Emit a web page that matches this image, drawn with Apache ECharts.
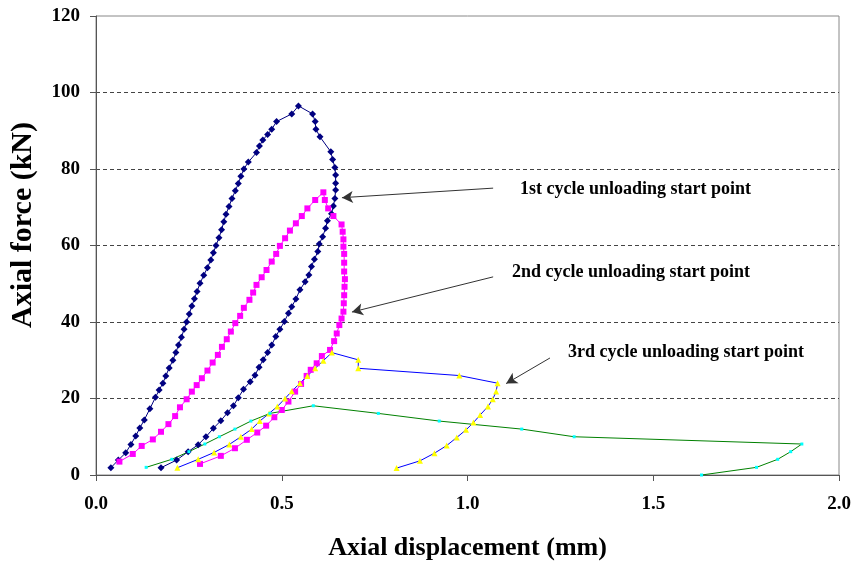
<!DOCTYPE html>
<html>
<head>
<meta charset="utf-8">
<script src="https://cdn.jsdelivr.net/npm/echarts@6/dist/echarts.min.js"></script>
<style>html,body{margin:0;padding:0;background:#fff}#c{width:857px;height:567px}</style>
</head>
<body>
<div id="c"></div>
<script>
// ---- data ----
const cycle1 = [[0.040,1.9],[0.060,3.9],[0.080,5.8],[0.094,8.0],[0.107,10.2],[0.118,12.3],[0.130,14.4],[0.145,17.3],[0.160,20.3],[0.170,22.2],[0.180,24.0],[0.188,25.9],[0.197,28.0],[0.207,30.0],[0.215,32.0],[0.222,34.0],[0.230,36.0],[0.237,38.1],[0.244,40.0],[0.251,42.1],[0.258,44.2],[0.265,46.1],[0.272,48.0],[0.280,50.1],[0.290,52.2],[0.300,54.2],[0.309,56.2],[0.316,58.1],[0.323,60.0],[0.331,62.0],[0.338,64.1],[0.344,66.2],[0.350,68.2],[0.358,70.2],[0.366,72.3],[0.375,74.3],[0.383,76.2],[0.390,78.1],[0.398,80.0],[0.410,81.8],[0.432,84.3],[0.440,86.0],[0.449,87.6],[0.462,89.0],[0.473,90.4],[0.486,92.4],[0.527,94.4],[0.545,96.5],[0.583,94.4],[0.590,92.4],[0.592,90.4],[0.603,88.4],[0.632,84.5],[0.637,82.5],[0.643,80.4],[0.645,78.4],[0.645,76.3],[0.645,74.5],[0.643,72.3],[0.639,70.3],[0.634,68.3],[0.623,66.5],[0.618,64.5],[0.610,62.3],[0.601,60.4],[0.597,58.4],[0.588,56.4],[0.580,54.5],[0.573,52.3],[0.563,50.5],[0.549,48.4],[0.538,46.0],[0.527,44.0],[0.518,42.3],[0.507,40.1],[0.495,38.1],[0.484,36.2],[0.473,34.0],[0.462,32.0],[0.450,30.1],[0.439,28.2],[0.428,26.1],[0.415,24.4],[0.397,22.4],[0.383,20.2],[0.370,18.1],[0.354,16.3],[0.336,14.2],[0.316,12.2],[0.296,10.0],[0.275,7.9],[0.248,6.1],[0.217,3.9],[0.175,1.9]];
const cycle2 = [[0.063,3.5],[0.099,5.5],[0.123,7.6],[0.153,9.3],[0.175,11.3],[0.195,13.3],[0.213,15.4],[0.226,17.7],[0.244,19.8],[0.258,21.8],[0.271,23.5],[0.285,25.3],[0.300,27.3],[0.314,29.4],[0.328,31.4],[0.339,33.5],[0.352,35.5],[0.363,37.5],[0.375,39.7],[0.388,41.6],[0.398,43.7],[0.413,45.8],[0.423,47.7],[0.432,49.7],[0.446,51.7],[0.459,53.6],[0.473,55.8],[0.485,57.8],[0.495,59.9],[0.509,61.9],[0.522,63.9],[0.538,65.8],[0.554,67.7],[0.569,69.7],[0.590,71.9],[0.612,73.9],[0.616,71.9],[0.625,69.7],[0.639,67.7],[0.661,65.5],[0.664,63.6],[0.666,61.6],[0.666,59.7],[0.668,57.8],[0.668,55.5],[0.668,53.2],[0.670,51.2],[0.669,49.2],[0.668,47.0],[0.667,44.9],[0.666,42.7],[0.661,40.9],[0.655,39.2],[0.648,37.0],[0.641,35.0],[0.630,32.7],[0.608,31.1],[0.594,29.2],[0.578,27.5],[0.567,25.9],[0.552,23.8],[0.536,21.8],[0.518,19.2],[0.500,17.0],[0.480,15.1],[0.458,12.9],[0.434,11.1],[0.406,9.2],[0.374,7.0],[0.336,5.0],[0.280,2.9]];
const cycle3 = [[0.219,1.9],[0.275,4.1],[0.318,5.9],[0.359,8.0],[0.390,10.0],[0.419,12.0],[0.441,14.1],[0.466,16.1],[0.488,17.9],[0.509,20.0],[0.527,21.9],[0.549,24.0],[0.569,25.9],[0.590,27.9],[0.612,29.9],[0.635,32.0],[0.706,30.1],[0.706,27.9],[0.978,26.0],[1.081,24.0],[1.077,21.8],[1.068,19.8],[1.055,17.9],[1.034,15.7],[1.016,13.7],[0.996,11.8],[0.971,9.8],[0.944,7.7],[0.911,5.7],[0.872,3.7],[0.809,1.8]];
const cycle4 = [[0.135,2.0],[0.204,4.1],[0.250,6.1],[0.293,8.1],[0.332,10.0],[0.374,12.0],[0.417,14.1],[0.468,16.1],[0.585,18.1],[0.760,16.1],[0.924,14.1],[1.146,12.0],[1.287,10.0],[1.900,8.1],[1.870,6.1],[1.835,4.1],[1.778,2.0],[1.630,0.0]];
const annotationTexts = ['1st cycle unloading start point','2nd cycle unloading start point','3rd cycle unloading start point'];
const arrowFrom = [[1.069,75.0],[1.069,51.8],[1.222,30.6]];
const arrowTo = [[0.662,72.5],[0.689,42.6],[1.104,23.9]];
const xTitle = 'Axial displacement (mm)';
const yTitle = 'Axial force (kN)';
// ---- chart ----
const FONT = '"Liberation Serif","Times New Roman",serif';
const chart = echarts.init(document.getElementById('c'), null, {renderer:'canvas'});
const annotPos = [[520,189],[512,272],[568,352]];
const option = {
  animation: false,
  backgroundColor: '#fff',
  grid: {left: 96, top: 16, right: 18, bottom: 92, show: true, borderColor: '#888', borderWidth: 1, backgroundColor: 'transparent'},
  xAxis: {
    type: 'value', min: 0, max: 2, interval: 0.5,
    name: xTitle, nameLocation: 'middle', nameGap: 60,
    nameTextStyle: {fontFamily: FONT, fontWeight: 'bold', fontSize: 26, color: '#000'},
    axisLine: {show: true, lineStyle: {color: '#555', width: 1}},
    axisTick: {show: true, inside: false, length: 6, lineStyle: {color: '#555'}},
    axisLabel: {fontFamily: FONT, fontWeight: 'bold', fontSize: 19, color: '#000', margin: 20, formatter: v => v.toFixed(1)},
    splitLine: {show: false}
  },
  yAxis: {
    type: 'value', min: 0, max: 120, interval: 20,
    axisLine: {show: true, lineStyle: {color: '#555', width: 1}},
    axisTick: {show: true, inside: false, length: 6, lineStyle: {color: '#555'}},
    axisLabel: {fontFamily: FONT, fontWeight: 'bold', fontSize: 19, color: '#000', margin: 16},
    splitLine: {show: true, showMinLine: false, showMaxLine: false, lineStyle: {color: '#444', type: [4,3], width: 1}}
  },
  series: [
    {type: 'line', data: cycle1, symbol: 'diamond', symbolSize: 7, showAllSymbol: true,
     lineStyle: {color: '#000080', width: 1}, itemStyle: {color: '#000080'}},
    {type: 'line', data: cycle2, symbol: 'rect', symbolSize: 6, showAllSymbol: true,
     lineStyle: {color: '#FF00FF', width: 1}, itemStyle: {color: '#FF00FF'}},
    {type: 'line', data: cycle3, symbol: 'triangle', symbolSize: 6, showAllSymbol: true,
     lineStyle: {color: '#0000FF', width: 1}, itemStyle: {color: '#FFFF00'}},
    {type: 'line', data: cycle4, symbol: 'rect', symbolSize: 3, showAllSymbol: true,
     lineStyle: {color: '#008000', width: 1}, itemStyle: {color: '#00FFFF'},
     markLine: {
       silent: true, symbol: ['none','arrow'], symbolSize: [9, 11], label: {show: false},
       lineStyle: {color: '#333', type: 'solid', width: 1},
       data: arrowFrom.map((f, i) => [{coord: f}, {coord: arrowTo[i]}])
     }}
  ],
  graphic: [
    {type: 'text', x: 23, y: 225, rotation: Math.PI/2,
     style: {text: yTitle, fontFamily: FONT, fontWeight: 'bold', fontSize: 30, fill: '#000', textAlign: 'center', textVerticalAlign: 'middle'}}
  ].concat(annotationTexts.map((t, i) => ({
    type: 'text', x: annotPos[i][0], y: annotPos[i][1],
    style: {text: t, fontFamily: FONT, fontWeight: 'bold', fontSize: 18, fill: '#000', textAlign: 'left', textVerticalAlign: 'middle'}
  })))
};
chart.setOption(option);
</script>
</body>
</html>
